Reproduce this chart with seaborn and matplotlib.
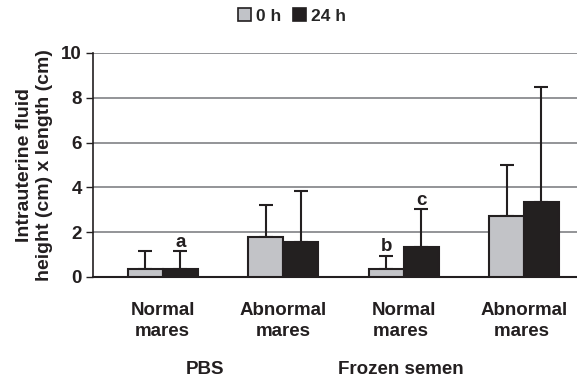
import matplotlib
matplotlib.use("Agg")
import matplotlib.pyplot as plt
import seaborn as sns
import pandas as pd
import numpy as np
from matplotlib.patches import Patch

categories = ["Normal\nmares", "Abnormal\nmares", "Normal\nmares ", "Abnormal\nmares "]
series = ["0 h", "24 h"]
values_0h = [0.36, 1.79, 0.34, 2.74]
values_24h = [0.36, 1.56, 1.35, 3.36]
err_0h = [0.80, 1.41, 0.61, 2.27]
err_24h = [0.78, 2.28, 1.67, 5.11]
letters_24h = ["a", "", "c", ""]
letters_0h = ["", "", "b", ""]
groups = ["PBS", "Frozen semen"]
yticks = [0, 2, 4, 6, 8, 10]

sns.set_theme(style="white")
plt.rcParams['font.family'] = ['Liberation Sans', 'DejaVu Sans']
plt.rcParams['font.weight'] = 'bold'

df = pd.DataFrame({
    "cat": categories * 2,
    "series": [series[0]] * 4 + [series[1]] * 4,
    "value": values_0h + values_24h,
})

colors = {"0 h": "#c1c3c8", "24 h": "#231f20"}
edge = "#231f20"
FS = 13.5

fig = plt.figure(figsize=(5.77, 3.81), dpi=100)
ax = fig.add_axes([0.161, 0.273, 0.839, 0.588])

sns.barplot(data=df, x="cat", y="value", hue="series", palette=colors,
            width=0.58, edgecolor=edge, linewidth=1.5, errorbar=None,
            legend=False, ax=ax, zorder=3)

bars = list(ax.patches)[:8]
errs = err_0h + err_24h
labs = letters_0h + letters_24h
for p, e, lab in zip(bars, errs, labs):
    xc = p.get_x() + p.get_width() / 2
    h = p.get_height()
    ax.errorbar([xc], [h], yerr=[[0], [e]], fmt='none', ecolor=edge,
                elinewidth=1.5, capsize=4.7, capthick=1.5, zorder=2)
    if lab:
        ax.text(xc, h + e + 0.03, lab, ha='center', va='bottom',
                fontsize=FS, fontweight='bold', color='#231f20')

ax.set_ylim(0, 10)
ax.set_xlim(-0.58, 3.44)
ax.set_yticks(yticks)
ax.set_yticklabels([str(t) for t in yticks], fontsize=FS, fontweight='bold', color='#231f20')
ax.tick_params(axis='y', which='both', left=True, length=5, width=1, color='#231f20', pad=3)
ax.tick_params(axis='x', bottom=False, pad=12)
ax.set_xticks(range(4))
ax.set_xticklabels(categories, fontsize=FS, fontweight='bold', color='#231f20', linespacing=1.3)
ax.yaxis.grid(True, color='#808285', linewidth=1.2, zorder=0)
ax.set_axisbelow(True)
for s in ['top', 'right']:
    ax.spines[s].set_visible(False)
ax.spines['left'].set_color('#231f20')
ax.spines['bottom'].set_color('#231f20')
ax.spines['left'].set_linewidth(1.2)
ax.spines['bottom'].set_linewidth(1.5)
ax.set_xlabel("")
ax.set_ylabel("Intrauterine fluid\nheight (cm) x length (cm)", fontsize=14,
              fontweight='bold', color='#231f20', labelpad=6, linespacing=1.2)

ax.text(0.35, -0.415, groups[0], transform=ax.get_xaxis_transform(), ha='center', va='center',
        fontsize=FS, fontweight='bold', color='#231f20')
ax.text(1.98, -0.415, groups[1], transform=ax.get_xaxis_transform(), ha='center', va='center',
        fontsize=FS, fontweight='bold', color='#231f20')

handles = [Patch(facecolor=colors[s], edgecolor=edge, linewidth=1.2, label=s) for s in series]
fig.legend(handles=handles, loc='center', bbox_to_anchor=(0.506, 0.958), ncol=2,
           frameon=False, handlelength=0.75, handleheight=0.75,
           handletextpad=0.3, columnspacing=0.7, prop={'weight': 'bold', 'size': 12.5})

fig.savefig("out.png", dpi=100)
